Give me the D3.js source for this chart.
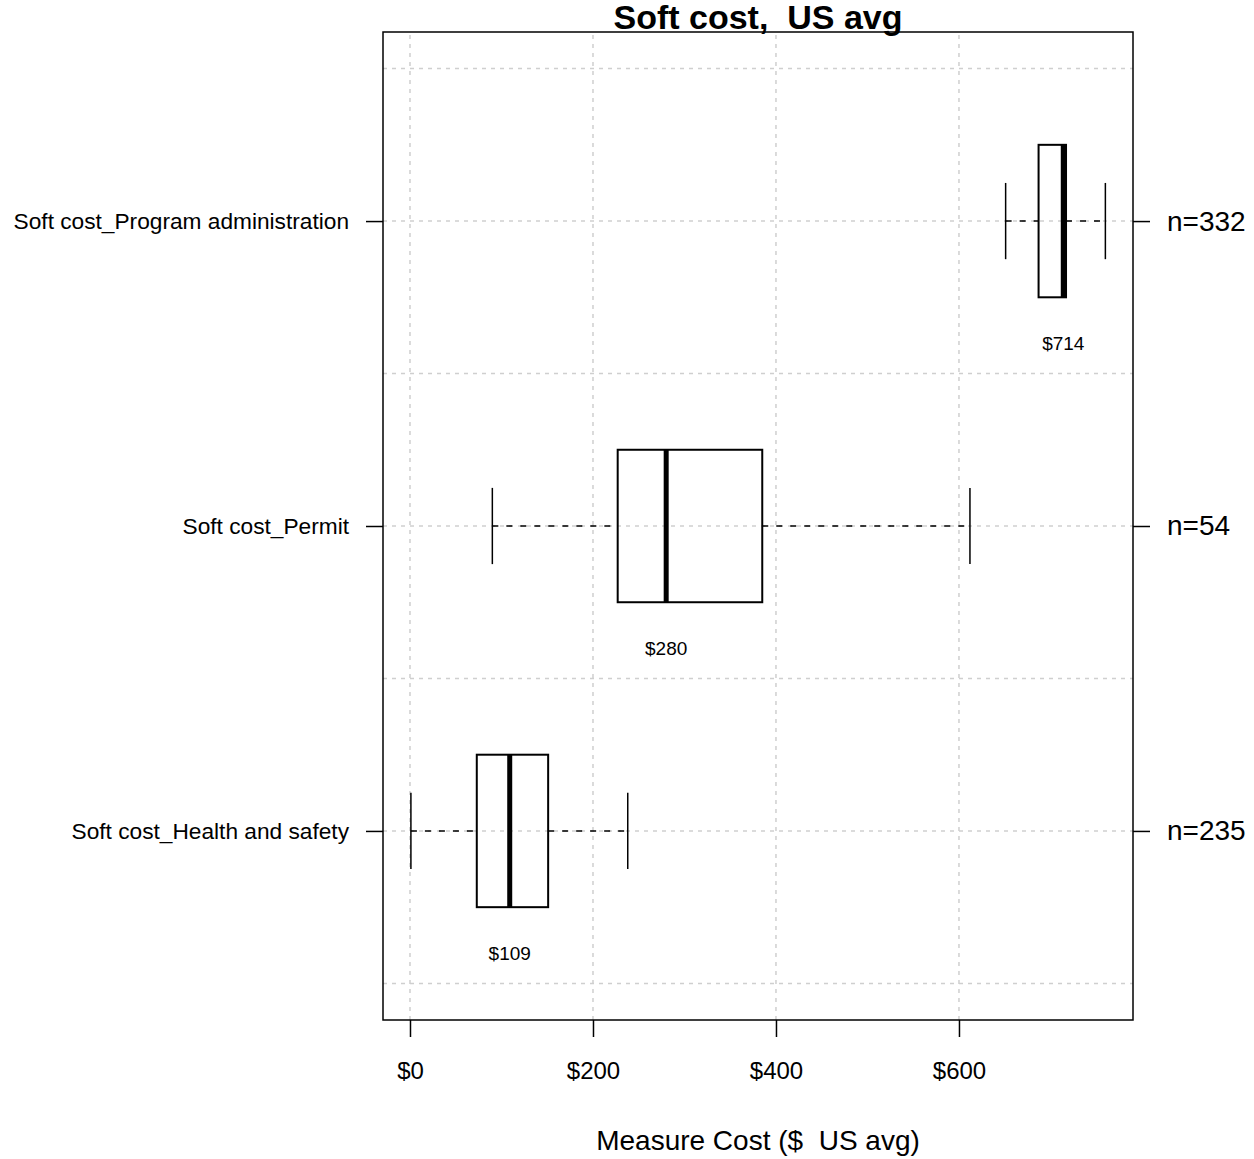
<!DOCTYPE html>
<html>
<head>
<meta charset="utf-8">
<script src="https://cdn.jsdelivr.net/npm/d3@7.9.0/dist/d3.min.js"></script>
<style>
  body { margin: 0; background: #fff; }
  text { font-family: "Liberation Sans", Arial, sans-serif; fill: #000; }
</style>
</head>
<body>
<svg id="chart" width="1254" height="1159"></svg>
<script>
const categories = ["Soft cost_Health and safety", "Soft cost_Permit", "Soft cost_Program administration"];
const whiskerLow = [1, 90, 651];
const q1 = [73, 227, 687];
const medians = [109, 280, 714];
const q3 = [151, 385, 717];
const whiskerHigh = [238, 612, 760];
const counts = [235, 54, 332];
const xTicks = [0, 200, 400, 600];

const width = 1254, height = 1159;
const margin = { top: 32, right: 121, bottom: 139, left: 383 };
const font = "Liberation Sans, Arial, sans-serif";

const svg = d3.select("#chart");

const x = d3.scaleLinear()
  .domain([-29.5, 790.2])
  .range([margin.left, width - margin.right]);

const y = d3.scaleLinear()
  .domain([0.38, 3.62])
  .range([height - margin.bottom, margin.top]);

const data = categories.map((c, i) => ({
  cat: c, pos: i + 1,
  lo: whiskerLow[i], q1: q1[i], med: medians[i], q3: q3[i], hi: whiskerHigh[i], n: counts[i]
}));

// grid
const grid = svg.append("g")
  .attr("stroke", "#cfcfcf")
  .attr("stroke-width", 1.5)
  .attr("stroke-dasharray", "4,5");

grid.selectAll("line.v")
  .data(xTicks)
  .join("line")
  .attr("x1", d => x(d)).attr("x2", d => x(d))
  .attr("y1", y(0.38)).attr("y2", y(3.62));

grid.selectAll("line.h")
  .data([0.5, 1, 1.5, 2, 2.5, 3, 3.5])
  .join("line")
  .attr("x1", x.range()[0]).attr("x2", x.range()[1])
  .attr("y1", d => y(d)).attr("y2", d => y(d));

// boxes
const g = svg.append("g").selectAll("g").data(data).join("g");

g.append("line")
  .attr("x1", d => x(d.lo)).attr("x2", d => x(d.q1))
  .attr("y1", d => y(d.pos)).attr("y2", d => y(d.pos))
  .attr("stroke", "#000").attr("stroke-width", 1.5)
  .attr("stroke-dasharray", "6,8");

g.append("line")
  .attr("x1", d => x(d.q3)).attr("x2", d => x(d.hi))
  .attr("y1", d => y(d.pos)).attr("y2", d => y(d.pos))
  .attr("stroke", "#000").attr("stroke-width", 1.5)
  .attr("stroke-dasharray", "6,8");

g.selectAll("line.cap")
  .data(d => [d.lo, d.hi].map(v => ({ v, pos: d.pos })))
  .join("line")
  .attr("x1", d => x(d.v)).attr("x2", d => x(d.v))
  .attr("y1", d => y(d.pos + 0.125)).attr("y2", d => y(d.pos - 0.125))
  .attr("stroke", "#000").attr("stroke-width", 1.5);

g.append("rect")
  .attr("x", d => x(d.q1))
  .attr("y", d => y(d.pos + 0.25))
  .attr("width", d => x(d.q3) - x(d.q1))
  .attr("height", d => y(d.pos - 0.25) - y(d.pos + 0.25))
  .attr("fill", "none")
  .attr("stroke", "#000").attr("stroke-width", 2);

g.append("line")
  .attr("x1", d => x(d.med)).attr("x2", d => x(d.med))
  .attr("y1", d => y(d.pos + 0.25)).attr("y2", d => y(d.pos - 0.25))
  .attr("stroke", "#000").attr("stroke-width", 5);

g.append("text")
  .attr("x", d => x(d.med))
  .attr("y", d => y(d.pos - 0.4) + 7)
  .attr("text-anchor", "middle")
  .style("font-size", "19px")
  .text(d => "$" + d.med);

// frame
svg.append("rect")
  .attr("x", x.range()[0]).attr("y", y.range()[1])
  .attr("width", x.range()[1] - x.range()[0])
  .attr("height", y.range()[0] - y.range()[1])
  .attr("fill", "none").attr("stroke", "#000").attr("stroke-width", 1.5);

// axes
const xAxis = svg.append("g")
  .attr("transform", `translate(0,${y.range()[0]})`)
  .call(d3.axisBottom(x).tickValues(xTicks).tickSize(17).tickPadding(25).tickFormat(d => "$" + d));
xAxis.select(".domain").remove();
xAxis.selectAll("line").attr("stroke-width", 1.5);
xAxis.selectAll("text").style("font-size", "24px").style("font-family", font);

const yAxis = svg.append("g")
  .attr("transform", `translate(${x.range()[0]},0)`)
  .call(d3.axisLeft(y).tickValues([1, 2, 3]).tickSize(17).tickPadding(17).tickFormat(d => categories[d - 1]));
yAxis.select(".domain").remove();
yAxis.selectAll("line").attr("stroke-width", 1.5);
yAxis.selectAll("text").style("font-size", "22.7px").style("font-family", font);

const yAxisR = svg.append("g")
  .attr("transform", `translate(${x.range()[1]},0)`)
  .call(d3.axisRight(y).tickValues([1, 2, 3]).tickSize(17).tickPadding(17).tickFormat(d => "n=" + counts[d - 1]));
yAxisR.select(".domain").remove();
yAxisR.selectAll("line").attr("stroke-width", 1.5);
yAxisR.selectAll("text").style("font-size", "28px").style("font-family", font);

// titles
svg.append("text")
  .attr("x", (x.range()[0] + x.range()[1]) / 2)
  .attr("y", 29)
  .attr("text-anchor", "middle")
  .style("font-size", "34px")
  .style("font-weight", "bold")
  .style("white-space", "pre")
  .text("Soft cost,  US avg");

svg.append("text")
  .attr("x", (x.range()[0] + x.range()[1]) / 2)
  .attr("y", 1150)
  .attr("text-anchor", "middle")
  .style("font-size", "28px")
  .style("white-space", "pre")
  .text("Measure Cost ($  US avg)");
</script>
</body>
</html>
